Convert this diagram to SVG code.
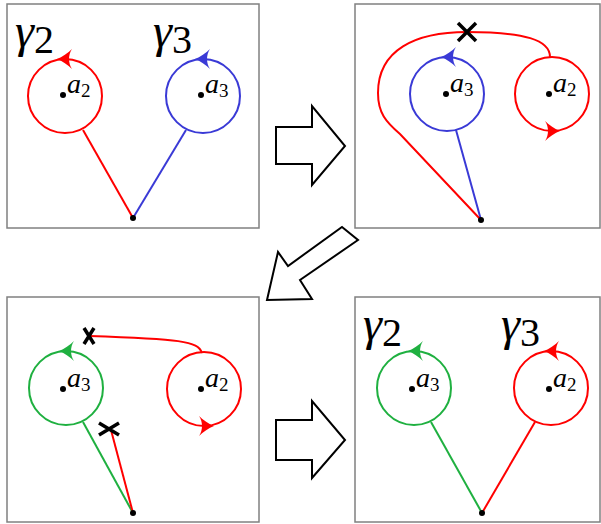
<svg xmlns="http://www.w3.org/2000/svg" width="601" height="524" viewBox="0 0 601 524">
<defs>
<style>
.frame{fill:#fff;stroke:#808080;stroke-width:1.5}
.big{fill:#fff;stroke:#000;stroke-width:2;stroke-linejoin:miter}
.c{fill:none;stroke-width:2}
.r{stroke:#ff0000}
.b{stroke:#3a3ad6}
.g{stroke:#1fb040}
.fr{fill:#ff0000}
.fb{fill:#3a3ad6}
.fg{fill:#1fb040}
.x{stroke:#000;stroke-width:3.5;stroke-linecap:butt}
.lbl{fill:#000}
.gam{font-style:italic;font-size:48px}
.num{font-size:40px}
.a{font-style:italic;font-size:28px}
.sub{font-size:19px}
</style>
<path id="ah" d="M-8,0 C-3,-2 3,-6 7,-10 C3,-4 3,4 7,10 C3,6 -3,2 -8,0 Z"/>
</defs>
<rect width="601" height="524" fill="#fff"/>
<g id="frames">
<rect class="frame" x="7" y="4" width="252" height="224"/>
<rect class="frame" x="355" y="4" width="245" height="224"/>
<rect class="frame" x="7" y="297" width="252" height="225"/>
<rect class="frame" x="355" y="297" width="245" height="225"/>
</g>
<g id="block-arrows">
<polygon class="big" points="276,127 312,127 312,106 345,146 312,185 312,164 276,164"/>
<polygon class="big" points="342,227 358,240 300,280 312,299 267,300 278,252 288,266"/>
<polygon class="big" points="276,420 312,420 312,401 345,440 312,478 312,460 276,460"/>
</g>
<g id="connectors">
<path class="c r" d="M83,130 L133,218"/>
<path class="c b" d="M186,130 L133,218"/>
<path class="c b" d="M456,130 L481,220"/>
<path class="c r" d="M550,57 C550,40 525,32 467,32 C415,32 378,50 378,93 C378,113 386,122 400,134 L481,220"/>
<path class="c g" d="M83,422 L133,513"/>
<path class="c r" d="M111,430 L133,513"/>
<path class="c r" d="M202,353 C198,341 180,339 89,336"/>
<path class="c g" d="M431,422 L482,513"/>
<path class="c r" d="M535,422 L482,513"/>
</g>
<g font-family="'Liberation Serif','DejaVu Serif',serif">
<g id="panel1">
<g id="p1-gamma2"><circle class="c r" cx="65" cy="96" r="37"/><use href="#ah" class="fr" transform="translate(65,59)"/><circle cx="63" cy="95" r="3"/><text class="lbl" x="67" y="93"><tspan class="a">a</tspan><tspan class="sub" dy="4">2</tspan></text><text class="lbl" x="15" y="47"><tspan class="gam">γ</tspan><tspan class="num" dy="6">2</tspan></text></g>
<g id="p1-gamma3"><circle class="c b" cx="203" cy="96" r="37"/><use href="#ah" class="fb" transform="translate(203,59)"/><circle cx="201" cy="95" r="3"/><text class="lbl" x="205" y="93"><tspan class="a">a</tspan><tspan class="sub" dy="4">3</tspan></text><text class="lbl" x="153" y="47"><tspan class="gam">γ</tspan><tspan class="num" dy="6">3</tspan></text></g>
<circle id="p1-base" cx="133" cy="218" r="3"/>
</g>
<g id="panel2">
<g id="p2-a3"><circle class="c b" cx="447" cy="94" r="37"/><use href="#ah" class="fb" transform="translate(449,57)"/><circle cx="446" cy="94" r="3"/><text class="lbl" x="450" y="92"><tspan class="a">a</tspan><tspan class="sub" dy="4">3</tspan></text></g>
<g id="p2-a2"><circle class="c r" cx="552" cy="94" r="37"/><use href="#ah" class="fr" transform="translate(552,131) rotate(180)"/><circle cx="549" cy="94" r="3"/><text class="lbl" x="553" y="92"><tspan class="a">a</tspan><tspan class="sub" dy="4">2</tspan></text></g>
<path class="x" d="M458,23 L476,41 M476,23 L458,41"/>
<circle id="p2-base" cx="481" cy="220" r="3"/>
</g>
<g id="panel3">
<g id="p3-a3"><circle class="c g" cx="66" cy="388" r="37"/><use href="#ah" class="fg" transform="translate(67,351)"/><circle cx="63" cy="389" r="3"/><text class="lbl" x="67" y="387"><tspan class="a">a</tspan><tspan class="sub" dy="4">3</tspan></text></g>
<g id="p3-a2"><circle class="c r" cx="204" cy="389" r="37"/><use href="#ah" class="fr" transform="translate(206,426) rotate(180)"/><circle cx="201" cy="389" r="3"/><text class="lbl" x="205" y="387"><tspan class="a">a</tspan><tspan class="sub" dy="4">2</tspan></text></g>
<path class="x" d="M84,328 L94,344 M94,328 L84,344"/>
<path class="x" d="M99,423 L119,435 M119,423 L99,435"/>
<circle id="p3-base" cx="133" cy="513" r="3"/>
</g>
<g id="panel4">
<g id="p4-gamma2"><circle class="c g" cx="414" cy="388" r="37"/><use href="#ah" class="fg" transform="translate(416,351)"/><circle cx="412" cy="389" r="3"/><text class="lbl" x="416" y="387"><tspan class="a">a</tspan><tspan class="sub" dy="4">3</tspan></text><text class="lbl" x="363" y="340"><tspan class="gam">γ</tspan><tspan class="num" dy="6">2</tspan></text></g>
<g id="p4-gamma3"><circle class="c r" cx="551" cy="388" r="37"/><use href="#ah" class="fr" transform="translate(552,351)"/><circle cx="549" cy="389" r="3"/><text class="lbl" x="553" y="387"><tspan class="a">a</tspan><tspan class="sub" dy="4">2</tspan></text><text class="lbl" x="501" y="340"><tspan class="gam">γ</tspan><tspan class="num" dy="6">3</tspan></text></g>
<circle id="p4-base" cx="482" cy="513" r="3"/>
</g>
</g>
</svg>
